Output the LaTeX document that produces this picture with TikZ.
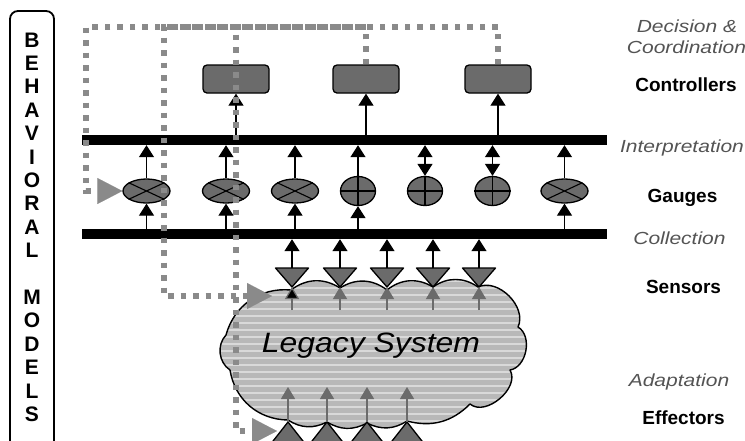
\documentclass[tikz,border=0pt]{standalone}
\usepackage{fontspec}
\usepackage{graphicx}
\setmainfont{Liberation Sans}
\usetikzlibrary{arrows.meta,shapes.geometric,calc}

\definecolor{devgray}{gray}{0.42}
\definecolor{feedgray}{gray}{0.54}
\definecolor{labgray}{gray}{0.33}
\definecolor{cloudgray}{gray}{0.72}
\definecolor{stripegray}{gray}{0.85}
\definecolor{linkgray}{gray}{0.42}

% outline of the legacy-system cloud (image-style coordinates, y downwards)
\newcommand\legacyoutline{(226,335) to[bend left=40] (291,290) to[bend left=35] (340,288)
  to[bend left=35] (387,290) to[bend left=35] (433,287) to[bend left=35] (478,287)
  to[bend left=70] (518,327) to[bend left=70] (510,370) to[bend left=80] (470,404)
  to[bend left=30] (407,421) to[bend left=30] (367,423) to[bend left=30] (327,422)
  to[bend left=30] (288,420) to[bend left=40] (230,370) to[bend left=50] (226,335) -- cycle}

\begin{document}
\begin{tikzpicture}[x=1pt,y=-1pt,
  bar/.style={fill=black, minimum width=525pt, minimum height=10pt, inner sep=0pt},
  ctrl/.style={draw, line width=1.3pt, fill=devgray, rounded corners=4pt,
    minimum width=66pt, minimum height=28pt, inner sep=0pt},
  gaugeX/.style={ellipse, draw, line width=1.3pt, fill=devgray,
    minimum width=47pt, minimum height=24pt, inner sep=0pt},
  gaugeP/.style={ellipse, draw, line width=1.3pt, fill=devgray,
    minimum width=35pt, minimum height=29pt, inner sep=0pt},
  device/.style={draw=black, fill=devgray, line width=1.3pt, line join=round},
  up/.style={line width=1.2pt, -{Triangle[length=12pt,width=15pt]}},
  both/.style={line width=1.2pt, {Triangle[length=12pt,width=15pt]}-{Triangle[length=12pt,width=15pt]}},
  cloudup/.style={linkgray, line width=1.2pt, -{Triangle[length=12pt,width=14pt]}},
  feed/.style={feedgray, line width=5.5pt, dash pattern=on 5.5pt off 7pt,
    -{Triangle[length=25pt,width=26pt,line width=0.1pt]}},
  lab/.style={font=\fontsize{17.5}{21}\selectfont\itshape, text=labgray, anchor=base, inner sep=0pt},
  lvl/.style={font=\fontsize{19}{22}\selectfont\bfseries, anchor=base, inner sep=0pt},
  vlet/.style={font=\fontsize{21}{22}\selectfont\bfseries, anchor=base, inner sep=0pt}
]
\useasboundingbox (0,0) rectangle (745,440);
\fill[white] (0,0) rectangle (745,440);
\clip (0,0) rectangle (745,440);

% behavioural models column
\node[draw, line width=1.8pt, rounded corners=8pt, minimum width=44pt,
  minimum height=460pt, inner sep=0pt] (bmbox) at (32,241) {};
\foreach \ch/\k in {B/0,E/1,H/2,A/3,V/4,I/5,O/6,R/7,A/8,L/9,M/11,O/12,D/13,E/14,L/15,S/16}
  \node[vlet] (bm\k) at (32,47+23.4*\k) {\ch};

% layer labels
\node[lab] (tDec)   at (687,32)    {\scalebox{1.2}[1]{Decision \&}};
\node[lab] (tCoord) at (686.5,53.5){\scalebox{1.2}[1]{Coordination}};
\node[lvl] (tCtrl)  at (686,91)    {Controllers};
\node[lab] (tInt)   at (682,152)   {\scalebox{1.2}[1]{Interpretation}};
\node[lvl] (tGau)   at (682.5,202) {Gauges};
\node[lab] (tCol)   at (679.5,244) {\scalebox{1.2}[1]{Collection}};
\node[lvl] (tSen)   at (683.5,293) {Sensors};
\node[lab] (tAda)   at (679,386.5) {\scalebox{1.2}[1]{Adaptation}};
\node[lvl] (tEff)   at (683.5,424) {Effectors};

% buses
\node[bar] (interp) at (344.5,140) {};
\node[bar] (coll)   at (344.5,234) {};

% controllers
\node[ctrl] (c1) at (236,79) {};
\node[ctrl] (c2) at (366,79) {};
\node[ctrl] (c3) at (498,79) {};
\foreach \c in {c1,c2,c3}
  \draw[up] (\c.south |- interp.north) -- (\c.south);

% gauges
\node[gaugeX] (g1) at (146.5,191) {};
\node[gaugeX] (g2) at (226,191) {};
\node[gaugeX] (g3) at (295,191) {};
\node[gaugeP] (g4) at (358,191) {};
\node[gaugeP] (g5) at (425,191) {};
\node[gaugeP] (g6) at (492.5,191) {};
\node[gaugeX] (g7) at (564.5,191) {};
\foreach \g in {g1,g2,g3,g7} {
  \draw[line width=1.1pt] (\g.155) -- (\g.-25);
  \draw[line width=1.1pt] (\g.25) -- (\g.205);
}
\foreach \g in {g4,g5,g6} {
  \draw[line width=1.1pt] (\g.north) -- (\g.south);
  \draw[line width=1.1pt] (\g.west) -- (\g.east);
}
\foreach \g in {g1,g2,g3,g4,g7} {
  \draw[up] (\g.north) -- (\g.north |- interp.south);
  \draw[up] (\g.south |- coll.north) -- (\g.south);
}
\foreach \g in {g5,g6}
  \draw[both] (\g.north) -- (\g.north |- interp.south);

% legacy system cloud with striped fill
\fill[cloudgray] \legacyoutline;
\begin{scope}
  \clip \legacyoutline;
  \foreach \y in {281,288,...,428}
    \draw[stripegray, line width=2pt] (210,\y) -- (535,\y);
\end{scope}
\draw[line width=1.4pt, line join=round] \legacyoutline;
\node[font=\fontsize{28}{30}\selectfont\itshape, anchor=base, inner sep=0pt] (legacy)
  at (371,352) {\scalebox{1.14}[1]{Legacy System}};

% sensors
\foreach \x [count=\i] in {292,340,387,433,479} {
  \coordinate (s\i) at (\x,268);
  \coordinate (st\i) at (\x,287);
  \coordinate (ss\i) at (\x,310);
  \filldraw[device] ($(s\i)+(-16.5,0)$) -- ($(s\i)+(16.5,0)$) -- (st\i) -- cycle;
  \draw[up] (s\i) -- (s\i |- coll.south);
}
\draw[linkgray, line width=1.2pt, -{Triangle[length=12pt,width=14pt,fill=black]}] (ss1) -- (st1);
\foreach \i in {2,3,4,5}
  \draw[cloudup] (ss\i) -- (st\i);

% effectors
\foreach \x [count=\i] in {288,327,367,407} {
  \coordinate (e\i) at (\x,422);
  \coordinate (et\i) at (\x,387);
  \filldraw[device] (e\i) -- ($(e\i)+(22,28)$) -- ($(e\i)+(-22,28)$) -- cycle;
  \draw[cloudup] (e\i) -- (et\i);
}

% feedback paths from the controllers
\coordinate (loopA) at (86,27);
\coordinate (loopB) at (164,27);
\coordinate (loopC) at (236,27);
\coordinate (sensIn) at (272,296);
\coordinate (effIn) at (277,431);
\draw[feed] (c3.north) |- (loopA) |- (g1.west);
\draw[feed] (c2.north) |- (loopB) |- (sensIn);
\draw[feed] (c2.north) |- (loopC) |- (effIn);
\end{tikzpicture}
\end{document}
